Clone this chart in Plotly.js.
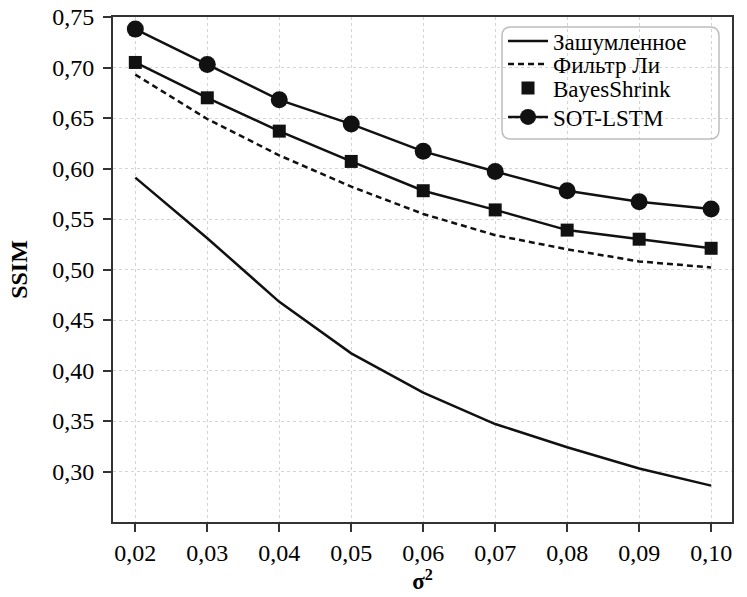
<!DOCTYPE html>
<html>
<head>
<meta charset="utf-8">
<script src="https://cdn.plot.ly/plotly-3.0.1.min.js"></script>
<style>
  html, body { margin: 0; padding: 0; background: #fff; }
  #chart { width: 747px; height: 597px; }
</style>
</head>
<body>
<div id="chart"></div>
<script>
// Noise variance values on the x axis
const sigma2 = [0.02, 0.03, 0.04, 0.05, 0.06, 0.07, 0.08, 0.09, 0.10];

// SSIM per method
const noisy       = [0.591, 0.531, 0.468, 0.417, 0.378, 0.347, 0.324, 0.303, 0.286];
const leeFilter   = [0.693, 0.649, 0.613, 0.582, 0.555, 0.534, 0.520, 0.508, 0.502];
const bayesShrink = [0.705, 0.670, 0.637, 0.607, 0.578, 0.559, 0.539, 0.530, 0.521];
const sotLstm     = [0.738, 0.703, 0.668, 0.644, 0.617, 0.597, 0.578, 0.567, 0.560];

const seriesNames = ['Зашумленное', 'Фильтр Ли', 'BayesShrink', 'SOT-LSTM'];
const xTickVals = [0.02, 0.03, 0.04, 0.05, 0.06, 0.07, 0.08, 0.09, 0.10];
const yTickVals = [0.30, 0.35, 0.40, 0.45, 0.50, 0.55, 0.60, 0.65, 0.70, 0.75];

const FONT = 'Liberation Serif, Times New Roman, serif';
const INK = '#111';

const W = 747, H = 597;
const M = { l: 113, r: 15, t: 17, b: 75 };
const PW = W - M.l - M.r, PH = H - M.t - M.b;
const paperX = v => (v - M.l) / PW;
const paperY = v => (H - M.b - v) / PH;

// rounded legend frame, given in pixels and converted to paper units
function roundedBox(x0, y0, x1, y1, rad) {
  const px = paperX, py = paperY;
  const p = [
    `M${px(x0 + rad)},${py(y0)}`,
    `L${px(x1 - rad)},${py(y0)}`,
    `Q${px(x1)},${py(y0)} ${px(x1)},${py(y0 + rad)}`,
    `L${px(x1)},${py(y1 - rad)}`,
    `Q${px(x1)},${py(y1)} ${px(x1 - rad)},${py(y1)}`,
    `L${px(x0 + rad)},${py(y1)}`,
    `Q${px(x0)},${py(y1)} ${px(x0)},${py(y1 - rad)}`,
    `L${px(x0)},${py(y0 + rad)}`,
    `Q${px(x0)},${py(y0)} ${px(x0 + rad)},${py(y0)}`,
    'Z'
  ];
  return p.join(' ');
}

const traces = [
  {
    x: sigma2, y: noisy, name: seriesNames[0], type: 'scatter', mode: 'lines',
    line: { color: INK, width: 2.5 }, legend: 'legend'
  },
  {
    x: sigma2, y: leeFilter, name: seriesNames[1], type: 'scatter', mode: 'lines',
    line: { color: INK, width: 2.5, dash: '6px,4px' }, legend: 'legend2'
  },
  {
    x: sigma2, y: bayesShrink, name: seriesNames[2], type: 'scatter', mode: 'lines',
    line: { color: INK, width: 2.5 }, showlegend: false, hoverinfo: 'skip'
  },
  {
    x: sigma2, y: bayesShrink, name: seriesNames[2], type: 'scatter', mode: 'markers',
    marker: { symbol: 'square', size: 13, color: INK }, legend: 'legend3'
  },
  {
    x: sigma2, y: sotLstm, name: seriesNames[3], type: 'scatter', mode: 'lines+markers',
    line: { color: INK, width: 2.5 },
    marker: { symbol: 'circle', size: 17, color: INK }, legend: 'legend4'
  }
];

const axisCommon = {
  showline: true, linecolor: '#333', linewidth: 2, mirror: true,
  ticks: 'outside', ticklen: 8, tickwidth: 2, tickcolor: '#333',
  showgrid: true, gridcolor: '#d4d4d4', gridwidth: 1, griddash: 'dot',
  zeroline: false,
  tickfont: { family: FONT, size: 24, color: '#000' }
};

// one legend row per series so the rows can sit at their own heights
const rowY = [41, 64, 88, 117];
function legendRow(i) {
  return {
    x: paperX(503), xanchor: 'left', y: paperY(rowY[i]), yanchor: 'middle',
    bgcolor: 'rgba(0,0,0,0)', borderwidth: 0,
    font: { family: FONT, size: 23, color: '#000' },
    itemwidth: 40
  };
}

const layout = {
  width: W, height: H,
  margin: M,
  paper_bgcolor: '#fff', plot_bgcolor: '#fff',
  separators: ', ',
  font: { family: FONT, color: '#000' },
  showlegend: true,
  xaxis: Object.assign({}, axisCommon, {
    range: [0.0169, 0.1029],
    tickvals: xTickVals, tickformat: '.2f',
    title: { text: '<b>σ<sup>2</sup></b>', font: { family: FONT, size: 23, color: '#000' }, standoff: 3 }
  }),
  yaxis: Object.assign({}, axisCommon, {
    range: [0.25, 0.75],
    tickvals: yTickVals, tickformat: '.2f',
    ticklabelstandoff: 4,
    title: { text: '<b>SSIM</b>', font: { family: FONT, size: 24, color: '#000' }, standoff: 18 }
  }),
  legend: legendRow(0),
  legend2: legendRow(1),
  legend3: legendRow(2),
  legend4: legendRow(3),
  shapes: [{
    type: 'path', xref: 'paper', yref: 'paper', layer: 'above',
    path: roundedBox(502, 27, 719, 139, 9),
    line: { color: '#bdbdbd', width: 1.5 },
    fillcolor: 'rgba(0,0,0,0)'
  }, {
    type: 'path', xref: 'paper', yref: 'paper', layer: 'below',
    path: roundedBox(502, 27, 719, 139, 9),
    line: { width: 0 },
    fillcolor: '#fff'
  }]
};

Plotly.newPlot('chart', traces, layout, { displayModeBar: false, staticPlot: true });
</script>
</body>
</html>
